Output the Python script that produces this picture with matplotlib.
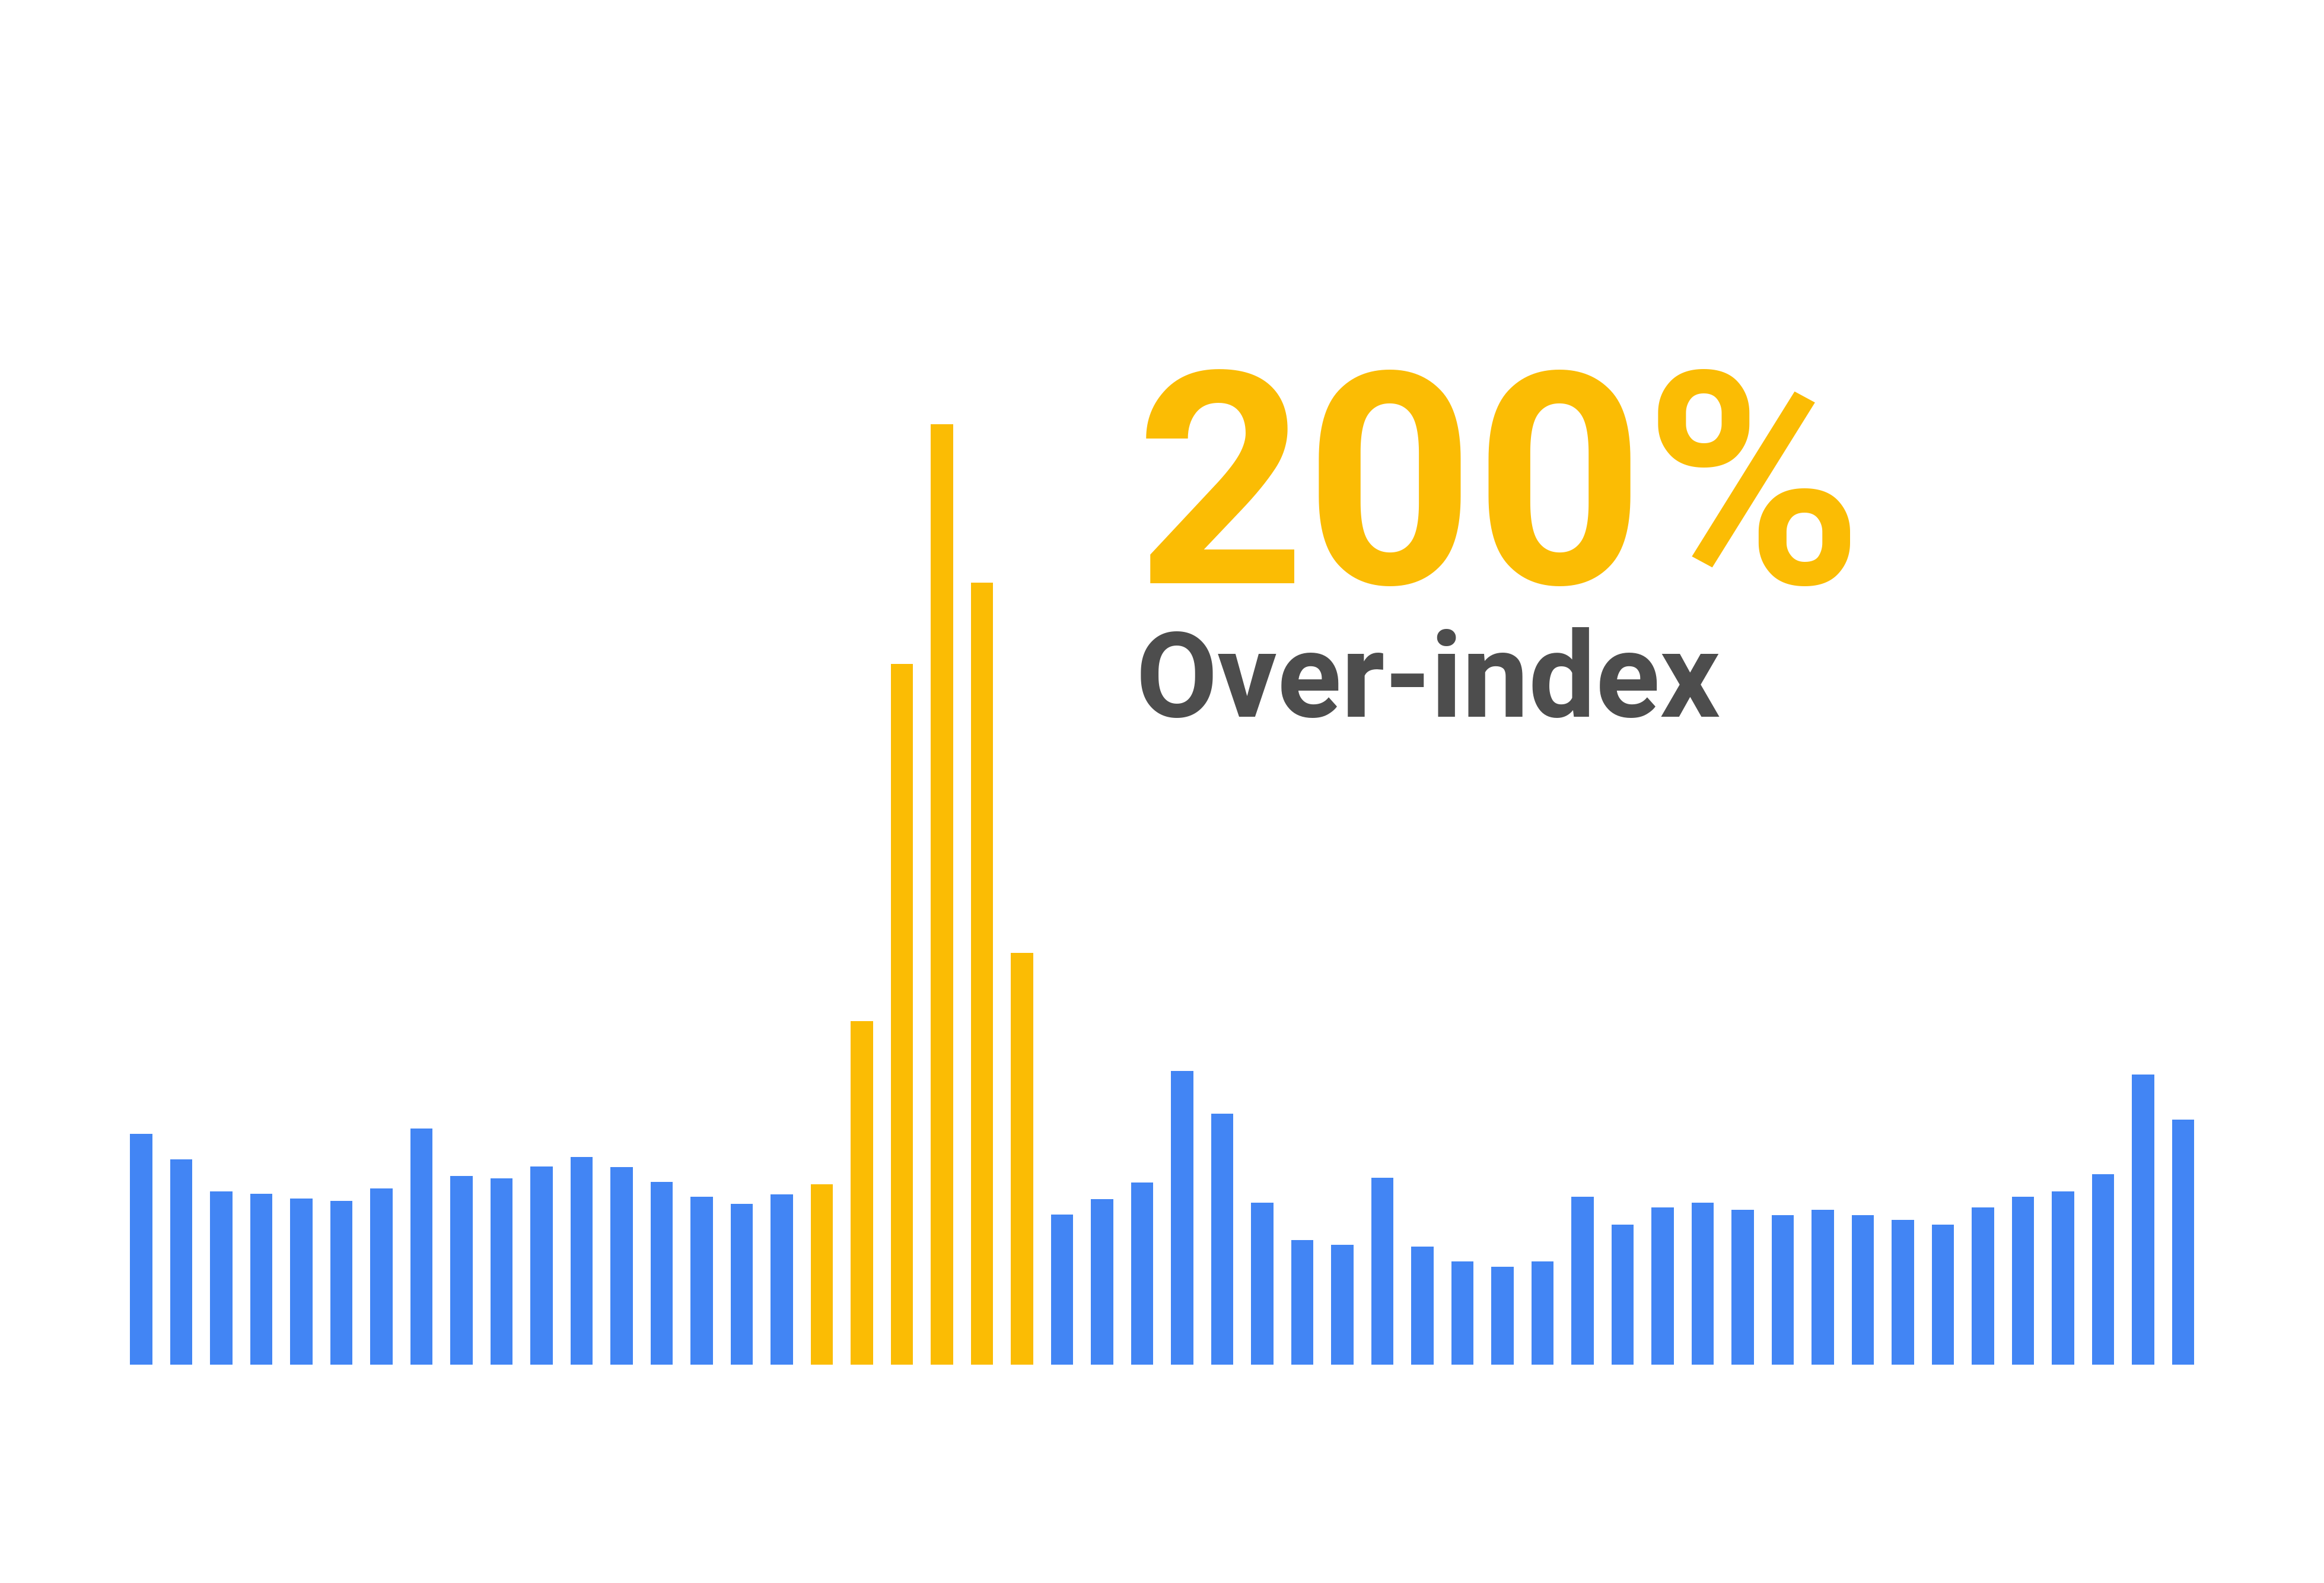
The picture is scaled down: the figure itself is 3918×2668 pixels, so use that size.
import matplotlib
matplotlib.use("Agg")
import matplotlib.pyplot as plt
import numpy as np

# bar heights (relative units), 52 weeks
values = [389, 346, 292, 288, 280, 276, 297, 398, 318, 314, 334, 350, 333, 308,
          283, 271, 287, 304, 579, 1181, 1585, 1318, 694, 253, 279, 307, 495, 423,
          273, 210, 202, 315, 199, 174, 165, 174, 283, 236, 265, 273, 261, 252,
          261, 252, 244, 236, 265, 283, 292, 321, 489, 413]
highlight = [18, 19, 20, 21, 22, 23]  # 1-based positions of yellow bars

blue = "#4285F4"
yellow = "#FBBC04"
grey = "#4D4D4D"

x = np.arange(len(values))
colors = [yellow if (i + 1) in highlight else blue for i in x]

fig = plt.figure(figsize=(39.18, 26.68), dpi=100)
ax = fig.add_axes([0.0521, 0.1379, 0.8959, 0.6372])
ax.bar(x, values, width=0.556, color=colors)
ax.set_xlim(-0.5, len(values) - 0.5)
ax.set_ylim(0, 1700)
ax.axis("off")

fig.text(0.4888, 0.6315, "200%", fontsize=359, fontweight="bold",
         family=["Roboto", "DejaVu Sans"], color=yellow, va="baseline", ha="left")
fig.text(0.4886, 0.5474, "Over-index", fontsize=144, fontweight="bold",
         family=["Roboto", "DejaVu Sans"], color=grey, va="baseline", ha="left")

fig.savefig("out.png", dpi=100, facecolor="white")
